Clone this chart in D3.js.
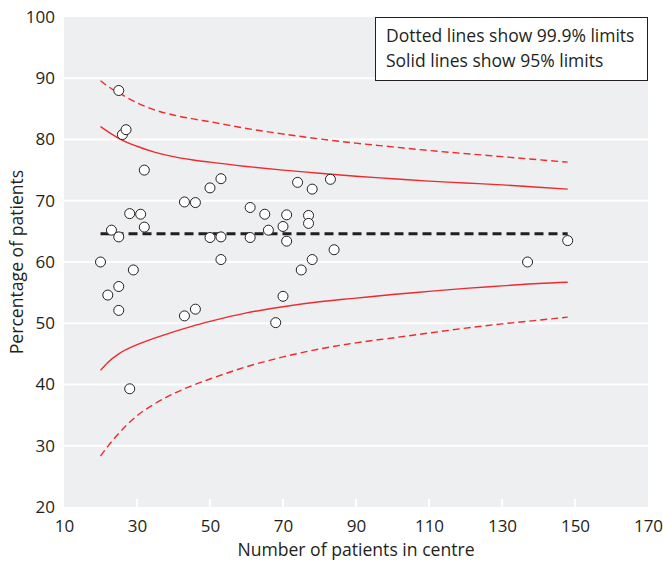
<!DOCTYPE html>
<html>
<head>
<meta charset="utf-8">
<script src="https://cdn.jsdelivr.net/npm/d3@7"></script>
<style>
  body { margin: 0; background: #fff; }
  #chart { width: 663px; height: 565px; }
  text { font-family: 'Open Sans', 'Noto Sans', sans-serif; fill: #231f20; }
</style>
</head>
<body>
<div id="chart"></div>
<script>
// centres: number of patients and percentage
const centreN = [25, 26, 27, 32, 50, 53, 20, 22, 23, 25, 25, 25, 28, 29, 31, 32, 43, 46, 43, 46, 50, 53, 53, 28,
  74, 78, 83, 61, 65, 71, 77, 77, 70, 66, 61, 71, 84, 78, 75, 70, 68, 148, 137]
const centrePct = [88.0, 80.8, 81.6, 75.0, 72.1, 73.6, 60.0, 54.6, 65.2, 64.1, 56.0, 52.1, 67.9, 58.7, 67.8, 65.7,
  69.8, 69.7, 51.2, 52.3, 64.0, 64.1, 60.4, 39.3, 73.0, 71.9, 73.5, 68.9, 67.8, 67.7, 67.6, 66.3, 65.8, 65.2,
  64.0, 63.4, 62.0, 60.4, 58.7, 54.4, 50.1, 63.5, 60.0]

// funnel limits
const limitN = [20, 22, 25, 30, 35, 40, 45, 50, 60, 70, 80, 90, 100, 110, 120, 130, 140, 148]
const upper95 = [82.1, 81.3, 80.2, 78.9, 77.9, 77.2, 76.7, 76.3, 75.6, 75.0, 74.5, 74.0, 73.6, 73.2, 72.9, 72.6, 72.2, 71.9]
const lower95 = [42.3, 43.6, 45.0, 46.5, 47.6, 48.6, 49.5, 50.3, 51.7, 52.7, 53.5, 54.1, 54.7, 55.2, 55.7, 56.1, 56.5, 56.7]
const upper999 = [89.6, 88.7, 87.6, 86.0, 84.8, 84.0, 83.4, 82.9, 81.8, 80.9, 80.1, 79.4, 78.8, 78.2, 77.7, 77.2, 76.7, 76.3]
const lower999 = [28.3, 29.9, 32.0, 34.9, 36.9, 38.5, 39.8, 40.9, 42.9, 44.5, 45.8, 46.8, 47.6, 48.4, 49.2, 49.9, 50.5, 51.0]

const meanPct = 64.6
const meanRange = [20, 148]

const xTicks = [10, 30, 50, 70, 90, 110, 130, 150, 170]
const yTicks = [20, 30, 40, 50, 60, 70, 80, 90, 100]

const legendLines = ['Dotted lines show 99.9% limits', 'Solid lines show 95% limits']

const w = 663, h = 565
const margin = { top: 17, left: 64, right: 15, bottom: 58 }
const red = '#ee2a2e'

const x = d3.scaleLinear().domain([10, 170]).range([margin.left, w - margin.right])
const y = d3.scaleLinear().domain([20, 100]).range([h - margin.bottom, margin.top])

const svg = d3.select('#chart').append('svg').attr('width', w).attr('height', h)

// plot background
svg.append('rect')
  .attr('x', x(10)).attr('y', y(100))
  .attr('width', x(170) - x(10)).attr('height', y(20) - y(100))
  .attr('fill', '#eeeff1')

// grid
svg.append('g')
  .selectAll('line').data(yTicks.filter(d => d > 20 && d < 100)).enter()
  .append('line')
  .attr('x1', x(10)).attr('x2', x(170))
  .attr('y1', d => y(d)).attr('y2', d => y(d))
  .attr('stroke', '#fff').attr('stroke-width', 2)

// x axis: white ticks inside the panel
let xAxis = svg.append('g')
  .attr('transform', `translate(0, ${y(20)})`)
  .call(d3.axisBottom(x).tickValues(xTicks).tickSize(0).tickPadding(13))
xAxis.select('.domain').remove()
xAxis.selectAll('.tick text').attr('font-size', 17).attr('fill', '#231f20')
  .attr('font-family', "'Open Sans', sans-serif")
svg.append('g')
  .selectAll('line').data(xTicks.slice(1, -1)).enter()
  .append('line')
  .attr('x1', d => x(d)).attr('x2', d => x(d))
  .attr('y1', y(20)).attr('y2', y(20) - 8)
  .attr('stroke', '#fff').attr('stroke-width', 2)

// y axis
let yAxis = svg.append('g')
  .attr('transform', `translate(${x(10)}, 0)`)
  .call(d3.axisLeft(y).tickValues(yTicks).tickSize(0).tickPadding(9))
yAxis.select('.domain').remove()
yAxis.selectAll('.tick text').attr('font-size', 17).attr('fill', '#231f20')
  .attr('font-family', "'Open Sans', sans-serif")

// axis titles
svg.append('text')
  .attr('x', (x(10) + x(170)) / 2).attr('y', 556)
  .attr('text-anchor', 'middle').attr('font-size', 17.6)
  .text('Number of patients in centre')
svg.append('text')
  .attr('transform', `translate(23, ${(y(20) + y(100)) / 2}) rotate(-90)`)
  .attr('text-anchor', 'middle').attr('font-size', 17.6)
  .text('Percentage of patients')

// limits
const lim = arr => d3.line().x((d, i) => x(limitN[i])).y(d => y(d)).curve(d3.curveMonotoneX)(arr)
svg.append('g').selectAll('path').data([upper95, lower95]).enter()
  .append('path').attr('d', lim)
  .attr('fill', 'none').attr('stroke', red).attr('stroke-width', 1.4)
svg.append('g').selectAll('path').data([upper999, lower999]).enter()
  .append('path').attr('d', lim)
  .attr('fill', 'none').attr('stroke', red).attr('stroke-width', 1.4)
  .attr('stroke-dasharray', '7,4')

// mean line
svg.append('line')
  .attr('x1', x(meanRange[0])).attr('x2', x(meanRange[1]))
  .attr('y1', y(meanPct)).attr('y2', y(meanPct))
  .attr('stroke', '#231f20').attr('stroke-width', 3)
  .attr('stroke-dasharray', '9,5')

// centres
svg.append('g').selectAll('circle').data(centreN).enter()
  .append('circle')
  .attr('cx', d => x(d))
  .attr('cy', (d, i) => y(centrePct[i]))
  .attr('r', 5)
  .attr('fill', '#fff').attr('stroke', '#231f20').attr('stroke-width', 1)

// legend
let lg = svg.append('g')
lg.append('rect')
  .attr('x', 375.5).attr('y', 17.5).attr('width', 272).attr('height', 63)
  .attr('fill', '#fff').attr('stroke', '#231f20').attr('stroke-width', 1)
lg.selectAll('text').data(legendLines).enter()
  .append('text')
  .attr('x', 386).attr('y', (d, i) => 42 + i * 25)
  .attr('font-size', 17.5)
  .text(d => d)
</script>
</body>
</html>
